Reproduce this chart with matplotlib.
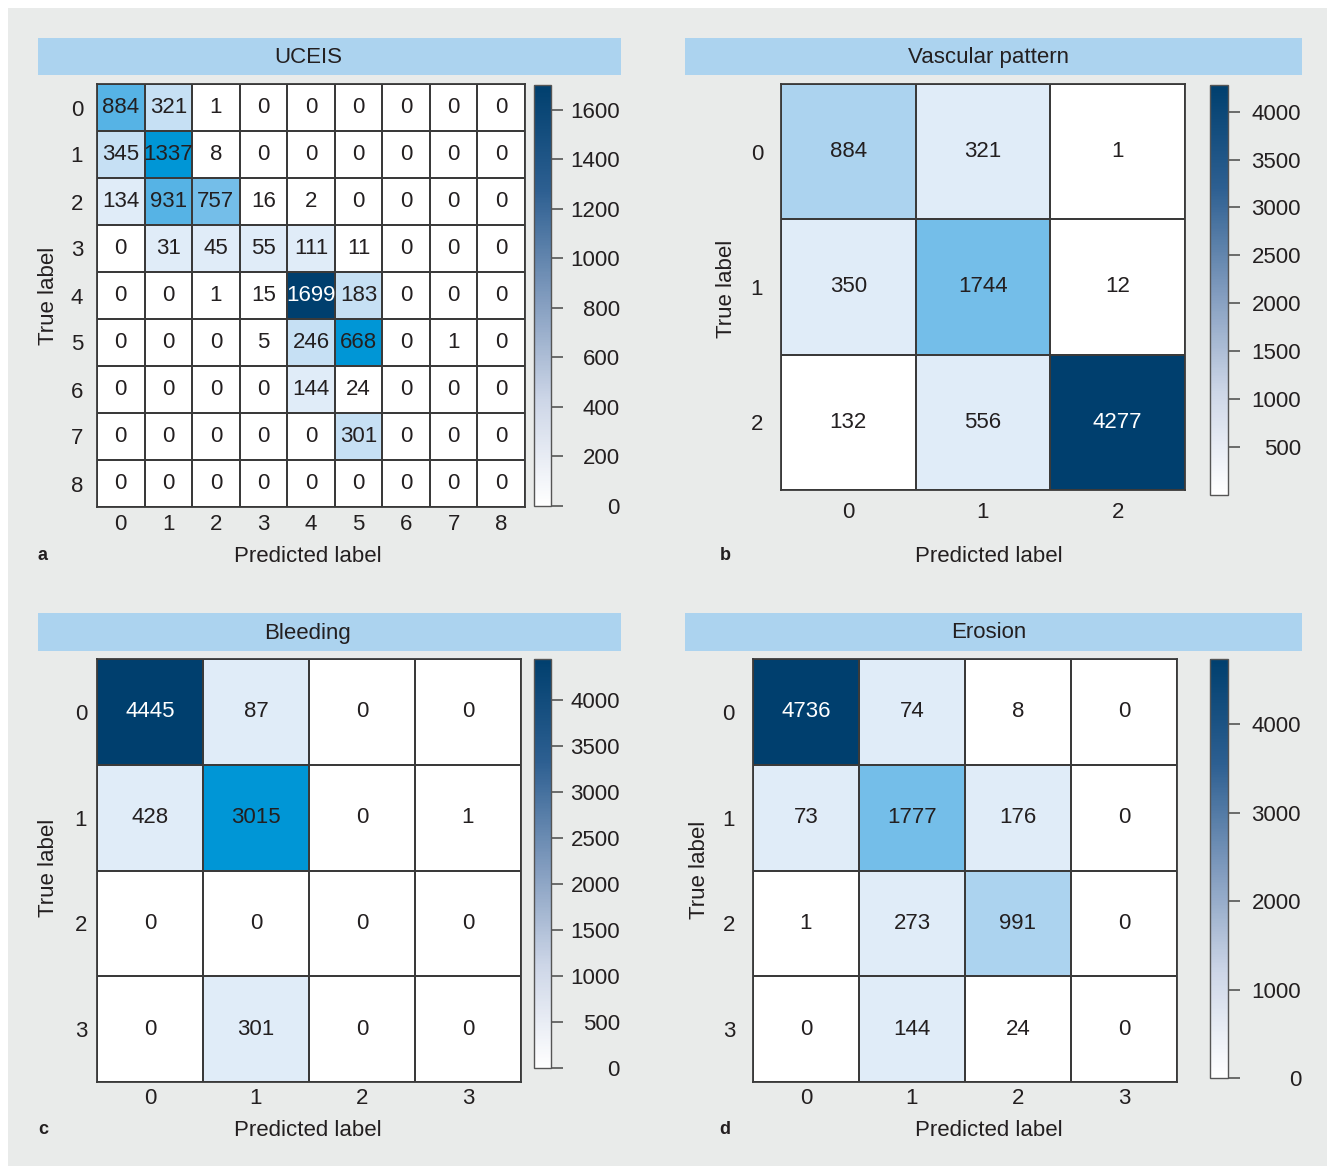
import numpy as np
import matplotlib
matplotlib.use("Agg")
import matplotlib.pyplot as plt
from matplotlib.colors import ListedColormap, BoundaryNorm, LinearSegmentedColormap, Normalize
from matplotlib.cm import ScalarMappable
from matplotlib.patches import Rectangle

plt.rcParams['font.family'] = ['Liberation Sans', 'DejaVu Sans']

# confusion matrices (rows = true label, cols = predicted label)
UCEIS = [
    [884, 321, 1, 0, 0, 0, 0, 0, 0],
    [345, 1337, 8, 0, 0, 0, 0, 0, 0],
    [134, 931, 757, 16, 2, 0, 0, 0, 0],
    [0, 31, 45, 55, 111, 11, 0, 0, 0],
    [0, 0, 1, 15, 1699, 183, 0, 0, 0],
    [0, 0, 0, 5, 246, 668, 0, 1, 0],
    [0, 0, 0, 0, 144, 24, 0, 0, 0],
    [0, 0, 0, 0, 0, 301, 0, 0, 0],
    [0, 0, 0, 0, 0, 0, 0, 0, 0],
]
VASCULAR = [
    [884, 321, 1],
    [350, 1744, 12],
    [132, 556, 4277],
]
BLEEDING = [
    [4445, 87, 0, 0],
    [428, 3015, 0, 1],
    [0, 0, 0, 0],
    [0, 301, 0, 0],
]
EROSION = [
    [4736, 74, 8, 0],
    [73, 1777, 176, 0],
    [1, 273, 991, 0],
    [0, 144, 24, 0],
]

# shade class of each cell (0 = white ... 7 = darkest)
UCEIS_SHADE = [
    [5, 2, 0, 0, 0, 0, 0, 0, 0],
    [2, 6, 0, 0, 0, 0, 0, 0, 0],
    [1, 5, 4, 0, 0, 0, 0, 0, 0],
    [0, 1, 1, 1, 1, 0, 0, 0, 0],
    [0, 0, 0, 0, 7, 2, 0, 0, 0],
    [0, 0, 0, 0, 2, 6, 0, 0, 0],
    [0, 0, 0, 0, 1, 0, 0, 0, 0],
    [0, 0, 0, 0, 0, 2, 0, 0, 0],
    [0, 0, 0, 0, 0, 0, 0, 0, 0],
]
VASCULAR_SHADE = [
    [3, 1, 0],
    [1, 4, 0],
    [0, 1, 7],
]
BLEEDING_SHADE = [
    [7, 1, 0, 0],
    [1, 6, 0, 0],
    [0, 0, 0, 0],
    [0, 1, 0, 0],
]
EROSION_SHADE = [
    [7, 1, 0, 0],
    [1, 4, 1, 0],
    [0, 1, 3, 0],
    [0, 1, 0, 0],
]

TITLES = ["UCEIS", "Vascular pattern", "Bleeding", "Erosion"]
TAGS = ["a", "b", "c", "d"]
CBAR_STEPS = [200, 500, 500, 1000]

SHADES = ["#ffffff", "#e0ecf8", "#c6e0f4", "#acd3ef",
          "#74bee9", "#56b3e5", "#0096d6", "#003f6e"]
shade_cmap = ListedColormap(SHADES)
shade_norm = BoundaryNorm(np.arange(-0.5, len(SHADES) + 0.5), len(SHADES))
bar_cmap = LinearSegmentedColormap.from_list(
    "bar", ["#ffffff", "#cdd6e7", "#7f9abd", "#2d5f91", "#003f6e"])

TXT = "#231f20"
LINE = "#3a3a3a"
FS = 16

W, H = 1327, 1166
fig = plt.figure(figsize=(W / 100, H / 100), dpi=100, facecolor="white")


def px2pt(p):
    return p * 72 / 100


def add_ax(x0, y0, x1, y1):
    return fig.add_axes([x0 / W, 1 - y1 / H, (x1 - x0) / W, (y1 - y0) / H])


def fig_rect(x0, y0, x1, y1, color, z):
    fig.patches.append(Rectangle((x0 / W, 1 - y1 / H), (x1 - x0) / W, (y1 - y0) / H,
                                 transform=fig.transFigure, facecolor=color,
                                 edgecolor="none", zorder=z))


def fig_text(x, y, s, **kw):
    fig.text(x / W, 1 - y / H, s, color=TXT, ha="center", va="center", **kw)


# grey page behind the panels
fig_rect(8, 8, W, H, "#e9ebea", -3)

layouts = [
    dict(head=(38, 38, 621, 75), heat=(97, 84, 525, 507), cbar=(534, 85, 551, 506),
         ypad=14, xpad=7, lab_right=620, ylab=(48, 296), xlab=(308, 556), tag=(43, 556)),
    dict(head=(685, 38, 1302, 75), heat=(781, 84, 1185, 490), cbar=(1210, 85, 1228, 495),
         ypad=18, xpad=12, lab_right=1301, ylab=(726, 289), xlab=(989, 556), tag=(725, 556)),
    dict(head=(38, 613, 621, 651), heat=(97, 659, 521, 1082), cbar=(534, 659, 551, 1068),
         ypad=10, xpad=6, lab_right=620, ylab=(48, 868), xlab=(308, 1130), tag=(43, 1130)),
    dict(head=(685, 613, 1302, 651), heat=(753, 659, 1177, 1082), cbar=(1210, 659, 1228, 1078),
         ypad=18, xpad=6, lab_right=1301, ylab=(699, 870), xlab=(989, 1130), tag=(725, 1130)),
]

matrices = [UCEIS, VASCULAR, BLEEDING, EROSION]
shades = [UCEIS_SHADE, VASCULAR_SHADE, BLEEDING_SHADE, EROSION_SHADE]

for mat, shade, title, tag, step, lay in zip(matrices, shades, TITLES, TAGS, CBAR_STEPS, layouts):
    mat = np.array(mat)
    shade = np.array(shade)
    n = mat.shape[0]

    # title band, title sits over the centre of the caption
    hx0, hy0, hx1, hy1 = lay["head"]
    fig_rect(hx0, hy0, hx1, hy1, "#acd3ef", -2)
    fig_text(lay["xlab"][0], (hy0 + hy1) / 2 + 1, title, fontsize=FS)

    # heatmap
    ax = add_ax(*lay["heat"])
    ax.pcolormesh(shade, cmap=shade_cmap, norm=shade_norm,
                  edgecolors=LINE, linewidth=1.3)
    ax.set_xlim(0, n)
    ax.set_ylim(n, 0)
    for i in range(n):
        for j in range(n):
            ax.text(j + 0.5, i + 0.5, str(mat[i, j]), ha="center", va="center",
                    fontsize=FS, color="white" if shade[i, j] == 7 else TXT)
    ax.set_xticks(np.arange(n) + 0.5)
    ax.set_xticklabels([str(k) for k in range(n)])
    ax.set_yticks(np.arange(n) + 0.5)
    ax.set_yticklabels([str(k) for k in range(n)])
    ax.tick_params(axis="x", length=0, pad=px2pt(lay["xpad"]), labelsize=FS, labelcolor=TXT)
    ax.tick_params(axis="y", length=0, pad=px2pt(lay["ypad"]), labelsize=FS, labelcolor=TXT)
    for sp in ax.spines.values():
        sp.set_color(LINE)
        sp.set_linewidth(1.3)

    # colour bar
    vmin, vmax = mat.min(), mat.max()
    cax = add_ax(*lay["cbar"])
    sm = ScalarMappable(norm=Normalize(vmin, vmax), cmap=bar_cmap)
    ticks = [t for t in np.arange(0, vmax + 1, step) if t >= vmin]
    cb = fig.colorbar(sm, cax=cax, ticks=ticks)
    cb.outline.set_edgecolor("#555555")
    cb.outline.set_linewidth(1.0)
    cbx1 = lay["cbar"][2]
    tick_len = 12
    cax.tick_params(length=px2pt(tick_len), width=1.2, color="#555555",
                    labelsize=FS, labelcolor=TXT,
                    pad=px2pt(lay["lab_right"] - cbx1 - tick_len))
    for lbl in cax.get_yticklabels():
        lbl.set_horizontalalignment("right")

    # axis captions and panel tag
    fig_text(*lay["ylab"], "True label", fontsize=FS, rotation=90)
    fig_text(*lay["xlab"], "Predicted label", fontsize=FS)
    fig_text(*lay["tag"], tag, fontsize=13, fontweight="bold")

fig.savefig("out.png", dpi=100, facecolor=fig.get_facecolor())
